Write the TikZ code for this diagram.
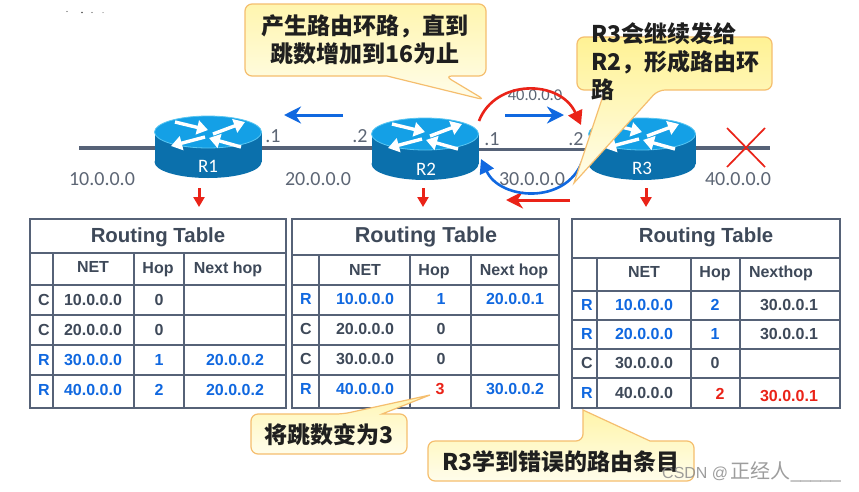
\documentclass[tikz,border=0pt]{standalone}
\usepackage{fontspec}
\setmainfont{Liberation Sans}
\newfontfamily\cjk{Noto Sans CJK SC}
\newfontfamily\lab{Carlito}
\usetikzlibrary{arrows.meta}
\definecolor{slate}{HTML}{566277}
\definecolor{ink}{HTML}{3E4959}
\definecolor{labelgray}{HTML}{5D6675}
\definecolor{netblue}{HTML}{1068E0}
\definecolor{alarm}{HTML}{EA2318}
\definecolor{rtop}{HTML}{14A0E6}
\definecolor{rside}{HTML}{0B70AC}
\definecolor{rrim}{HTML}{58C6F2}
\definecolor{edgeor}{HTML}{F5BE6E}
\definecolor{yel}{HTML}{FFF294}
\definecolor{pale}{HTML}{FFFDEB}
\tikzset{
  cellt/.style={inner sep=0pt,text height=11pt,text depth=0pt,font=\fontsize{16}{16}\selectfont\bfseries,text=ink},
  blu/.style={cellt,text=netblue},
  redc/.style={cellt,text=alarm},
  ttl/.style={inner sep=0pt,font=\fontsize{20.4}{22}\selectfont\bfseries,text=ink},
  lbl/.style={inner sep=0pt,font=\lab\fontsize{20}{20}\selectfont,text=labelgray},
  rname/.style={inner sep=0pt,font=\lab\fontsize{19}{19}\selectfont,text=white},
  grid/.style={draw=slate,line width=1.7pt},
  wire/.style={draw=slate,line width=3.6pt},
  call/.style={draw=edgeor,line width=1.2pt,rounded corners=7pt},
  ctext/.style={inner sep=0pt,align=left,font=\cjk\bfseries\fontsize{23}{28}\selectfont,text=black!88},
  wa/.style={draw=white,line width=3.4pt,-{Triangle[length=11pt,width=14pt]}},
  bluearrow/.style={draw=netblue,line width=3pt,-{Stealth[length=17pt,width=17pt]}},
  redarrow/.style={draw=alarm,line width=3pt,-{Stealth[length=17pt,width=17pt]}},
  downarrow/.style={draw=alarm,line width=3pt,-{Triangle[length=10pt,width=11pt]}},
}
\newcommand{\routerbody}[2]{%
  \fill[rside] (#1-53.5,#2) rectangle (#1+53.5,#2+30);
  \fill[rside] (#1,#2+30) ellipse [x radius=53.5pt,y radius=16pt];
  \fill[rtop,draw=rrim,line width=0.8pt] (#1,#2) ellipse [x radius=53.5pt,y radius=16pt];
  \draw[wa] (#1-33,#2-10) -- (#1,#2-2);
  \draw[wa] (#1+5,#2+2) -- (#1+37,#2-10);
  \draw[wa] (#1-3,#2+5) -- (#1-37,#2+14);
  \draw[wa] (#1+33,#2+15) -- (#1+1,#2+6);
}
\begin{document}
\begin{tikzpicture}[x=1pt,y=-1pt]
\useasboundingbox (0,0) rectangle (859,491);
\fill[white] (0,0) rectangle (859,491);

% stray marks at the top left
\fill[black!70] (67,11.5) circle (.7pt) (82,12.5) circle (.9pt) (92,12.5) circle (.7pt) (103,12.5) circle (.5pt);

% wires
\coordinate (n10) at (79,148);
\coordinate (R1w) at (160,148);
\coordinate (R1e) at (256,148);
\coordinate (R2w) at (376,148);
\coordinate (R2e) at (474,149.5);
\coordinate (R3w) at (594,149.5);
\coordinate (R3e) at (690,148);
\coordinate (n40) at (770,148);
\draw[wire] (n10) -- (R1w);
\draw[wire] (R1e) -- (R2w);
\draw[wire] (R2e) -- (R3w);
\draw[wire] (R3e) -- (n40);

% routers
\routerbody{208}{132}
\routerbody{425}{134}
\routerbody{642}{134}
\node[rname] (R1) at (208,166) {R1};
\node[rname] (R2) at (426,169) {R2};
\node[rname] (R3) at (642,168) {R3};

% link labels
\node[lbl] (a10) at (102,179) {10.0.0.0};
\node[lbl] (a20) at (318,179) {20.0.0.0};
\node[lbl] (a30) at (532,179) {30.0.0.0};
\node[lbl] (a40) at (738,179) {40.0.0.0};
\node[lbl,font=\lab\fontsize{16.5}{17}\selectfont] (a40b) at (535,95) {40.0.0.0};
\node[lbl] (d1) at (273,136) {.1};
\node[lbl] (d2) at (360,136) {.2};
\node[lbl] (d3) at (492,139) {.1};
\node[lbl] (d4) at (576,139) {.2};

% red cross
\coordinate (xa) at (727,128); \coordinate (xb) at (765,167);
\coordinate (xc) at (765,128); \coordinate (xd) at (727,167);
\draw[alarm,line width=1.7pt] (xa) -- (xb);
\draw[alarm,line width=1.7pt] (xc) -- (xd);

% straight flow arrows
\coordinate (b1s) at (343,115); \coordinate (b1e) at (284,115);
\coordinate (b2s) at (505,115); \coordinate (b2e) at (564,115);
\coordinate (r1s) at (570,200); \coordinate (r1e) at (506,200);
\draw[bluearrow] (b1s) -- (b1e);
\draw[bluearrow] (b2s) -- (b2e);
\draw[redarrow] (r1s) -- (r1e);

% callout: loop
\path[call,top color=yel!75!white,bottom color=pale]
  (245,4) -- (486,4) -- (486,76) -- (445,76) -- (485,100) [sharp corners] -- (387,76) [rounded corners=7pt] -- (245,76) -- cycle;
\node[ctext,align=center] (c1) at (365,40) {产生路由环路，直到\\跳数增加到16为止};

% curved arrows
\coordinate (arcAs) at (479,121); \coordinate (arcAe) at (581,125);
\coordinate (arcBs) at (582,162); \coordinate (arcBe) at (481,159);
\draw[alarm,line width=2.6pt,-{Triangle[length=14pt,width=15pt]}] (arcAs) .. controls (495,79) and (560,79) .. (arcAe);
\draw[netblue,line width=2.6pt,-{Triangle[length=14pt,width=15pt]}] (arcBs) .. controls (565,205) and (500,200) .. (arcBe);

% callout: R3 resends
\path[call,top color=yel,bottom color=pale]
  (577,37) -- (772,37) -- (772,90) -- (658,90) [sharp corners] -- (574,183) -- (605,90) [rounded corners=7pt] -- (577,90) -- cycle;
\node[ctext,anchor=north west,text width=180pt] (c2) at (591,22) {R3会继续发给\\R2，形成路由环\\路};

% down arrows
\coordinate (u1) at (199,188); \coordinate (v1) at (199,207);
\coordinate (u2) at (423,188); \coordinate (v2) at (423,207);
\coordinate (u3) at (646,188); \coordinate (v3) at (646,207);
\draw[downarrow] (u1) -- (v1);
\draw[downarrow] (u2) -- (v2);
\draw[downarrow] (u3) -- (v3);

% table 1
\draw[grid] (30,219) rectangle (286,408);
\draw[grid] (30,253) -- (286,253) (30,285) -- (286,285) (30,315) -- (286,315) (30,345) -- (286,345) (30,375) -- (286,375);
\draw[grid] (53,253) -- (53,408) (134,253) -- (134,408) (184,253) -- (184,408);
\node[ttl] (t1t) at (158,237) {Routing Table};
\node[cellt] (t1h1) at (93,267) {NET};
\node[cellt] (t1h2) at (158,268) {Hop};
\node[cellt] (t1h3) at (228,268) {Next hop};
\node[cellt] (t1a0) at (44,300) {C};
\node[cellt] (t1a1) at (93,300) {10.0.0.0};
\node[cellt] (t1a2) at (159,300) {0};
\node[cellt] (t1b0) at (44,330) {C};
\node[cellt] (t1b1) at (93,330) {20.0.0.0};
\node[cellt] (t1b2) at (159,330) {0};
\node[blu] (t1c0) at (44,360) {R};
\node[blu] (t1c1) at (93,360) {30.0.0.0};
\node[blu] (t1c2) at (159,360) {1};
\node[blu] (t1c3) at (235,360) {20.0.0.2};
\node[blu] (t1d0) at (44,390) {R};
\node[blu] (t1d1) at (93,390) {40.0.0.0};
\node[blu] (t1d2) at (159,390) {2};
\node[blu] (t1d3) at (235,390) {20.0.0.2};

% table 2
\draw[grid] (292,219) rectangle (559,408);
\draw[grid] (292,255) -- (559,255) (292,285) -- (559,285) (292,315) -- (559,315) (292,345) -- (559,345) (292,375) -- (559,375);
\draw[grid] (319,255) -- (319,408) (410,255) -- (410,408) (471,255) -- (471,408);
\node[ttl,font=\fontsize{21.6}{23}\selectfont\bfseries] (t2t) at (426,237) {Routing Table};
\node[cellt] (t2h1) at (365,270) {NET};
\node[cellt] (t2h2) at (434,270) {Hop};
\node[cellt] (t2h3) at (514,270) {Next hop};
\node[blu] (t2a0) at (306,299) {R};
\node[blu] (t2a1) at (365,299) {10.0.0.0};
\node[blu] (t2a2) at (441,299) {1};
\node[blu] (t2a3) at (515,299) {20.0.0.1};
\node[cellt] (t2b0) at (306,329) {C};
\node[cellt] (t2b1) at (365,329) {20.0.0.0};
\node[cellt] (t2b2) at (441,329) {0};
\node[cellt] (t2c0) at (306,359) {C};
\node[cellt] (t2c1) at (365,359) {30.0.0.0};
\node[cellt] (t2c2) at (441,359) {0};
\node[blu] (t2d0) at (306,389) {R};
\node[blu] (t2d1) at (365,389) {40.0.0.0};
\node[redc] (t2d2) at (440,389) {3};
\node[blu] (t2d3) at (515,389) {30.0.0.2};

% table 3
\draw[grid] (572,219) rectangle (840,408);
\draw[grid] (572,258) -- (840,258) (572,291) -- (840,291) (572,320) -- (840,320) (572,349) -- (840,349) (572,378) -- (840,378);
\draw[grid] (597,258) -- (597,408) (691,258) -- (691,408) (740,258) -- (740,408);
\node[ttl] (t3t) at (706,237) {Routing Table};
\node[cellt] (t3h1) at (644,272) {NET};
\node[cellt] (t3h2) at (715,272) {Hop};
\node[cellt] (t3h3) at (781,272) {Nexthop};
\node[blu] (t3a0) at (587,305) {R};
\node[blu] (t3a1) at (644,305) {10.0.0.0};
\node[blu] (t3a2) at (715,305) {2};
\node[cellt] (t3a3) at (789,305) {30.0.0.1};
\node[blu] (t3b0) at (587,334) {R};
\node[blu] (t3b1) at (644,334) {20.0.0.0};
\node[blu] (t3b2) at (715,334) {1};
\node[cellt] (t3b3) at (789,334) {30.0.0.1};
\node[cellt] (t3c0) at (587,363) {C};
\node[cellt] (t3c1) at (644,363) {30.0.0.0};
\node[cellt] (t3c2) at (715,363) {0};
\node[blu] (t3d0) at (587,393) {R};
\node[cellt] (t3d1) at (644,393) {40.0.0.0};
\node[redc] (t3d2) at (720,394) {2};
\node[redc] (t3d3) at (789,396) {30.0.0.1};

% callout: hop becomes 3
\path[call,top color=yel!70!white,bottom color=pale]
  (251,414) -- (343,414) [sharp corners] -- (430,395) -- (382,414) [rounded corners=7pt] -- (407,414) -- (407,454) -- (251,454) -- cycle;
\node[ctext] (c3) at (329,435) {将跳数变为3};

% callout: wrong route learned
\path[call,top color=yel!80!white,bottom color=pale]
  (428,441) -- (583,441) [sharp corners] -- (583,410) -- (650,441) [rounded corners=7pt] -- (694,441) -- (694,481) -- (428,481) -- cycle;
\node[ctext] (c4) at (561,462) {R3学到错误的路由条目};

% watermark
\node[inner sep=0pt,anchor=west,text=black!45,opacity=.85] (wm) at (662,472)
  {\fontsize{16}{16}\selectfont CSDN @\,{\cjk\fontsize{20}{20}\selectfont 正经人}\fontsize{18}{18}\selectfont\_\_\_\_\_};
\end{tikzpicture}
\end{document}
